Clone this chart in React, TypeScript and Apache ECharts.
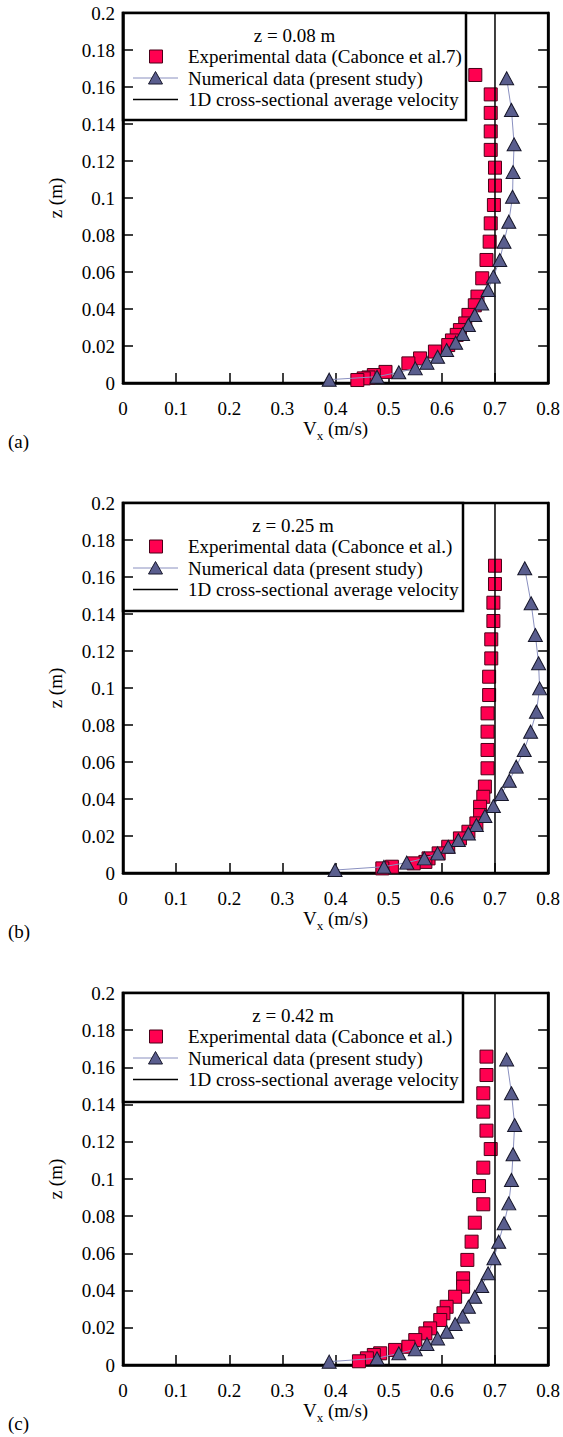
import React, { useEffect, useRef } from 'react';
import * as echarts from 'echarts';

// ---------- data ----------
const panelLabels = ['(a)', '(b)', '(c)'];
const panelTitles = ['z = 0.08 m', 'z = 0.25 m', 'z = 0.42 m'];
const expNames = [
  'Experimental data (Cabonce et al.7)',
  'Experimental data (Cabonce et al.)',
  'Experimental data (Cabonce et al.)',
];
const numName = 'Numerical data (present study)';
const avgName = '1D cross-sectional average velocity';
const avgVelocity = 0.7;

const xTickLabels = ['0', '0.1', '0.2', '0.3', '0.4', '0.5', '0.6', '0.7', '0.8'];
const yTickLabels = ['0', '0.02', '0.04', '0.06', '0.08', '0.1', '0.12', '0.14', '0.16', '0.18', '0.2'];

// Panel (a) z = 0.08 m
const expA_z = [0.1665, 0.156, 0.146, 0.136, 0.126, 0.1164, 0.1067, 0.0962, 0.0863, 0.0764, 0.0665, 0.0566, 0.0467, 0.042, 0.0368, 0.0322, 0.0286, 0.026, 0.023, 0.0205, 0.017, 0.0133, 0.0106, 0.006, 0.0043, 0.003, 0.0025, 0.0016];
const expA_v = [0.663, 0.692, 0.692, 0.692, 0.692, 0.700, 0.700, 0.698, 0.692, 0.690, 0.684, 0.676, 0.667, 0.662, 0.650, 0.644, 0.634, 0.628, 0.619, 0.612, 0.587, 0.559, 0.537, 0.494, 0.472, 0.462, 0.453, 0.441];
const numA_z = [0.1647, 0.1476, 0.129, 0.114, 0.1007, 0.0872, 0.0764, 0.0665, 0.0575, 0.0503, 0.043, 0.0368, 0.0314, 0.0265, 0.0218, 0.0178, 0.0142, 0.011, 0.0079, 0.0058, 0.0034, 0.0018];
const numA_v = [0.722, 0.731, 0.736, 0.734, 0.733, 0.726, 0.717, 0.709, 0.697, 0.687, 0.675, 0.662, 0.650, 0.639, 0.626, 0.609, 0.592, 0.572, 0.550, 0.519, 0.478, 0.388];

// Panel (b) z = 0.25 m
const expB_z = [0.1661, 0.1562, 0.1461, 0.1362, 0.1263, 0.116, 0.1061, 0.0962, 0.0863, 0.0764, 0.0665, 0.0566, 0.0467, 0.0412, 0.0358, 0.0313, 0.0268, 0.0223, 0.0187, 0.0142, 0.0106, 0.0079, 0.006, 0.0052, 0.0034, 0.0025];
const expB_v = [0.700, 0.700, 0.697, 0.697, 0.693, 0.693, 0.689, 0.689, 0.686, 0.686, 0.686, 0.686, 0.681, 0.678, 0.672, 0.672, 0.665, 0.650, 0.634, 0.612, 0.594, 0.575, 0.569, 0.547, 0.506, 0.488];
const numB_z = [0.1647, 0.1458, 0.1286, 0.1134, 0.0998, 0.0872, 0.0764, 0.0665, 0.0575, 0.0499, 0.0427, 0.0362, 0.0308, 0.0259, 0.0214, 0.0178, 0.0142, 0.0106, 0.0079, 0.0056, 0.0034, 0.0016];
const numB_v = [0.756, 0.768, 0.776, 0.782, 0.784, 0.778, 0.767, 0.755, 0.740, 0.727, 0.712, 0.697, 0.681, 0.665, 0.650, 0.631, 0.612, 0.592, 0.567, 0.534, 0.491, 0.399];

// Panel (c) z = 0.42 m
const expC_z = [0.1658, 0.1559, 0.1461, 0.1362, 0.126, 0.1161, 0.1061, 0.0962, 0.0864, 0.0765, 0.0663, 0.0565, 0.0466, 0.0421, 0.0367, 0.0313, 0.0278, 0.0242, 0.0197, 0.017, 0.0134, 0.0098, 0.0081, 0.0063, 0.0054, 0.0036, 0.002];
const expC_v = [0.684, 0.684, 0.678, 0.678, 0.684, 0.692, 0.678, 0.670, 0.678, 0.662, 0.656, 0.648, 0.640, 0.640, 0.625, 0.609, 0.603, 0.597, 0.578, 0.569, 0.550, 0.537, 0.512, 0.484, 0.472, 0.459, 0.444];
const numC_z = [0.1643, 0.1461, 0.129, 0.1133, 0.0995, 0.0869, 0.0762, 0.0663, 0.0574, 0.0493, 0.0425, 0.0367, 0.0313, 0.026, 0.022, 0.0179, 0.0143, 0.0113, 0.0084, 0.0063, 0.0036, 0.0018];
const numC_v = [0.722, 0.731, 0.737, 0.734, 0.731, 0.726, 0.717, 0.707, 0.698, 0.687, 0.675, 0.662, 0.650, 0.639, 0.625, 0.609, 0.592, 0.572, 0.550, 0.519, 0.478, 0.388];

const expZ = [expA_z, expB_z, expC_z];
const expV = [expA_v, expB_v, expC_v];
const numZ = [numA_z, numB_z, numC_z];
const numV = [numA_v, numB_v, numC_v];

// ---------- layout / style ----------
const W = 563;
const H = 1437;
const gridLeft = 123;
const gridRight = 13;
const gridTops = [13, 503, 993];
const gridHeights = [370, 370, 372];
const legendBoxW = [343, 340, 340];
const legendBoxH = [107, 108, 109];
const FONT = 'Liberation Serif';
const SQ_COLOR = '#FF0050';
const SQ_BORDER = '#4a0018';
const TRI_COLOR = '#5a5e8e';
const TRI_BORDER = '#16162a';
const TRI_LINE = '#8a90c0';

const zip = (v: number[], z: number[]) => v.map((x, i) => [x, z[i]]);

function buildOption() {
  const grid: any[] = [];
  const xAxis: any[] = [];
  const yAxis: any[] = [];
  const series: any[] = [];
  const graphic: any[] = [];

  for (let i = 0; i < 3; i++) {
    grid.push({
      left: gridLeft,
      right: gridRight,
      top: gridTops[i],
      height: gridHeights[i],
      show: true,
      borderColor: '#000',
      borderWidth: 2.5,
      backgroundColor: 'transparent',
    });
    xAxis.push({
      type: 'value',
      gridIndex: i,
      min: 0,
      max: 0.8,
      interval: 0.1,
      position: 'bottom',
      name: '{v|V}{s|x}{v| (m/s)}',
      nameLocation: 'middle',
      nameGap: 36,
      nameTextStyle: {
        color: '#000',
        fontFamily: FONT,
        rich: {
          v: { fontSize: 19, fontFamily: FONT, color: '#000', verticalAlign: 'bottom', lineHeight: 20, padding: [0, 0, 4, 0] },
          s: { fontSize: 13, fontFamily: FONT, color: '#000', verticalAlign: 'bottom', lineHeight: 14 },
        },
      },
      axisLine: { show: true, lineStyle: { color: '#000', width: 2.5 } },
      axisTick: { show: true, inside: true, length: 10, lineStyle: { color: '#000', width: 1.5 } },
      axisLabel: {
        color: '#000',
        fontFamily: FONT,
        fontSize: 19,
        margin: 16,
        formatter: (val: number) => xTickLabels[Math.round(val * 10)] ?? '',
      },
      splitLine: { show: false },
    });
    yAxis.push({
      type: 'value',
      gridIndex: i,
      min: 0,
      max: 0.2,
      interval: 0.02,
      position: 'left',
      name: 'z (m)',
      nameLocation: 'middle',
      nameGap: 58,
      nameTextStyle: { color: '#000', fontFamily: FONT, fontSize: 19 },
      axisLine: { show: true, lineStyle: { color: '#000', width: 2.5 } },
      axisTick: { show: true, inside: true, length: 10, lineStyle: { color: '#000', width: 1.5 } },
      axisLabel: {
        color: '#000',
        fontFamily: FONT,
        fontSize: 19,
        margin: 8,
        formatter: (val: number) => yTickLabels[Math.round(val * 50)] ?? '',
      },
      splitLine: { show: false },
    });
    yAxis.push({
      type: 'value',
      gridIndex: i,
      min: 0,
      max: 0.2,
      interval: 0.02,
      position: 'right',
      axisLine: { show: true, lineStyle: { color: '#000', width: 2.5 } },
      axisTick: { show: true, inside: true, length: 10, lineStyle: { color: '#000', width: 1.5 } },
      axisLabel: { show: false },
      splitLine: { show: false },
    });

    series.push({
      name: expNames[i],
      type: 'scatter',
      xAxisIndex: i,
      yAxisIndex: 2 * i,
      data: zip(expV[i], expZ[i]),
      symbol: 'rect',
      symbolSize: 13,
      itemStyle: { color: SQ_COLOR, borderColor: SQ_BORDER, borderWidth: 1, opacity: 1 },
      z: 2,
    });
    series.push({
      name: avgName,
      type: 'line',
      xAxisIndex: i,
      yAxisIndex: 2 * i,
      data: [[avgVelocity, 0], [avgVelocity, 0.2]],
      symbol: 'none',
      lineStyle: { color: '#000', width: 1.5 },
      z: 3,
    });
    series.push({
      name: numName,
      type: 'line',
      xAxisIndex: i,
      yAxisIndex: 2 * i,
      data: zip(numV[i], numZ[i]),
      symbol: 'triangle',
      symbolSize: [14, 13],
      showAllSymbol: true,
      itemStyle: { color: TRI_COLOR, borderColor: TRI_BORDER, borderWidth: 1 },
      lineStyle: { color: TRI_LINE, width: 1 },
      z: 4,
    });

    // legend box drawn with graphic elements
    const T = gridTops[i];
    const bw = legendBoxW[i];
    const bh = legendBoxH[i];
    const r0 = T + 22;
    const r1 = T + 43.5;
    const r2 = T + 65;
    const r3 = T + 86.5;
    const textStyle = { fill: '#000', fontFamily: FONT, fontSize: 19 };
    graphic.push({
      type: 'group',
      z: 100,
      children: [
        { type: 'rect', shape: { x: gridLeft, y: T, width: bw, height: bh }, style: { fill: '#fff', stroke: '#000', lineWidth: 2.5 } },
        { type: 'text', x: gridLeft + bw / 2, y: r0, style: { ...textStyle, text: panelTitles[i], align: 'center', verticalAlign: 'middle' } },
        { type: 'rect', shape: { x: 149.5, y: r1 - 6.5, width: 13, height: 13 }, style: { fill: SQ_COLOR, stroke: SQ_BORDER, lineWidth: 1 } },
        { type: 'text', x: 188, y: r1, style: { ...textStyle, text: expNames[i], align: 'left', verticalAlign: 'middle' } },
        { type: 'line', shape: { x1: 133, y1: r2, x2: 178, y2: r2 }, style: { stroke: TRI_LINE, lineWidth: 1 } },
        { type: 'polygon', shape: { points: [[148.5, r2 + 6], [162.5, r2 + 6], [155.5, r2 - 6.5]] }, style: { fill: TRI_COLOR, stroke: TRI_BORDER, lineWidth: 1 } },
        { type: 'text', x: 188, y: r2, style: { ...textStyle, text: numName, align: 'left', verticalAlign: 'middle' } },
        { type: 'line', shape: { x1: 133, y1: r3, x2: 178, y2: r3 }, style: { stroke: '#000', lineWidth: 1.5 } },
        { type: 'text', x: 188, y: r3, style: { ...textStyle, text: avgName, align: 'left', verticalAlign: 'middle' } },
      ],
    });
    graphic.push({
      type: 'text',
      x: 8,
      y: T + gridHeights[i] + 58,
      z: 100,
      style: { ...textStyle, text: panelLabels[i], align: 'left', verticalAlign: 'middle' },
    });
  }

  return {
    animation: false,
    backgroundColor: '#fff',
    grid,
    xAxis,
    yAxis,
    series,
    graphic,
  };
}

export default function App() {
  const ref = useRef<HTMLDivElement>(null);
  useEffect(() => {
    if (!ref.current) return;
    const chart = echarts.init(ref.current, undefined, { renderer: 'svg' });
    chart.setOption(buildOption() as any);
    return () => chart.dispose();
  }, []);
  return (
    <div
      ref={ref}
      style={{ position: 'absolute', left: 0, top: 0, width: W, height: H, background: '#fff' }}
    />
  );
}
